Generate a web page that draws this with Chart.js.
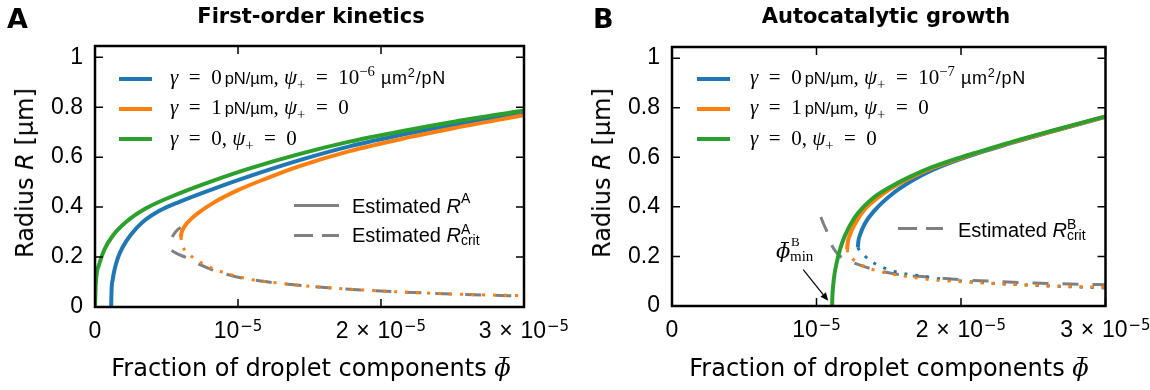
<!DOCTYPE html>
<html>
<head>
<meta charset="utf-8">
<script src="https://cdn.jsdelivr.net/npm/chart.js@4.4.1/dist/chart.umd.min.js"></script>
<style>
html, body { margin: 0; padding: 0; background: #fff; }
#fig { position: relative; width: 1150px; height: 390px; overflow: hidden; color: #000;
       font-family: "Liberation Sans", Arial, sans-serif; }
.wrap { position: absolute; top: 0; width: 575px; height: 390px; }
.t { position: absolute; white-space: nowrap; line-height: 1; }
.title { font-family: "DejaVu Sans"; font-weight: bold; font-size: 21px; transform: translateX(-50%); }
.letter { font-family: "DejaVu Sans"; font-weight: bold; font-size: 27px; }
.xlab { font-family: "DejaVu Sans"; font-size: 24px; transform: translateX(-50%); }
.ylab { font-family: "DejaVu Sans"; font-size: 24px; transform: translate(-50%, -50%) rotate(-90deg); }
.m { font-family: "Liberation Serif", serif; font-size: 21px; }
.eq { margin: 0 0.5em; }
.u { font-family: "Liberation Sans", sans-serif; font-size: 16.5px; margin-left: 3px; }
.u2 { font-size: 18px; letter-spacing: 0.8px; margin-left: 6px; }
.est { font-size: 20px; }
sup, sub { font-size: 0.7em; line-height: 0; }
.st { display: inline-flex; flex-direction: column; position: relative; top: -8px; font-size: 14px; line-height: 11px; }
.sw { position: absolute; }
.phi { position: relative; display: inline-block; font-family: "DejaVu Serif", serif; font-style: italic; }
.phi::before { content: ''; position: absolute; left: 0.22em; width: 0.4em; top: 0.06em; border-top: 0.07em solid #000; }
</style>
</head>
<body>
<div id="fig">
  <div class="wrap" style="left:0"><canvas id="chartA" width="575" height="390"></canvas></div>
  <div class="wrap" style="left:575px"><canvas id="chartB" width="575" height="390"></canvas></div>

  <!-- 标题 -->
  <div class="t letter" style="left:7px;top:5px">A</div>
  <div class="t title" style="left:311px;top:5.5px">First-order kinetics</div>
  <div class="t letter" style="left:593px;top:5px">B</div>
  <div class="t title" style="left:886px;top:5.5px">Autocatalytic growth</div>

  <!-- 坐标轴标题 -->
  <div class="t xlab" style="left:311px;top:356px">Fraction of droplet components <span class="phi">ϕ</span></div>
  <div class="t xlab" style="left:889px;top:356px">Fraction of droplet components <span class="phi">ϕ</span></div>
  <div class="t ylab" style="left:25px;top:173px">Radius <i>R</i> [µm]</div>
  <div class="t ylab" style="left:602px;top:173px">Radius <i>R</i> [µm]</div>

  <!-- 图例 A -->
  <div class="sw" style="left:119px;top:76.5px;width:33px;height:4px;background:#1f77b4"></div>
  <div class="sw" style="left:119px;top:106.5px;width:33px;height:4px;background:#ff7f0e"></div>
  <div class="sw" style="left:119px;top:137px;width:33px;height:4px;background:#2ca02c"></div>
  <div class="t" style="left:170px;top:66.5px"><span class="m"><i>γ</i><span class="eq">=</span>0</span><span class="u">pN/µm</span><span class="m">, <i>ψ</i><sub>+</sub><span class="eq">=</span>10<sup>−6</sup></span><span class="u u2">µm<sup>2</sup>/pN</span></div>
  <div class="t" style="left:170px;top:96.5px"><span class="m"><i>γ</i><span class="eq">=</span>1</span><span class="u">pN/µm</span><span class="m">, <i>ψ</i><sub>+</sub><span class="eq">=</span>0</span></div>
  <div class="t" style="left:170px;top:128px"><span class="m"><i>γ</i><span class="eq">=</span>0, <i>ψ</i><sub>+</sub><span class="eq">=</span>0</span></div>

  <div class="sw" style="left:294px;top:204.2px;width:45px;height:3px;background:#808080"></div>
  <div class="sw" style="left:294px;top:234.2px;width:45px;height:3px;background:repeating-linear-gradient(to right,#808080 0 19px,transparent 19px 28px)"></div>
  <div class="t est" style="left:352px;top:196px">Estimated <i>R</i><sup style="position:relative;top:-2px">A</sup></div>
  <div class="t est" style="left:352px;top:225px">Estimated <i>R</i><span class="st"><span>A</span><span>crit</span></span></div>

  <!-- 图例 B -->
  <div class="sw" style="left:697px;top:76.5px;width:33px;height:4px;background:#1f77b4"></div>
  <div class="sw" style="left:697px;top:106.5px;width:33px;height:4px;background:#ff7f0e"></div>
  <div class="sw" style="left:697px;top:137px;width:33px;height:4px;background:#2ca02c"></div>
  <div class="t" style="left:750px;top:66.5px"><span class="m"><i>γ</i><span class="eq">=</span>0</span><span class="u">pN/µm</span><span class="m">, <i>ψ</i><sub>+</sub><span class="eq">=</span>10<sup>−7</sup></span><span class="u u2">µm<sup>2</sup>/pN</span></div>
  <div class="t" style="left:750px;top:96.5px"><span class="m"><i>γ</i><span class="eq">=</span>1</span><span class="u">pN/µm</span><span class="m">, <i>ψ</i><sub>+</sub><span class="eq">=</span>0</span></div>
  <div class="t" style="left:750px;top:128px"><span class="m"><i>γ</i><span class="eq">=</span>0, <i>ψ</i><sub>+</sub><span class="eq">=</span>0</span></div>

  <div class="sw" style="left:898px;top:226.5px;width:45px;height:3px;background:repeating-linear-gradient(to right,#808080 0 19px,transparent 19px 28px)"></div>
  <div class="t est" style="left:958px;top:220px">Estimated <i>R</i><span class="st"><span>B</span><span>crit</span></span></div>

  <!-- 注释 φ̄_min^B -->
  <div class="t" style="left:776px;top:240px;font-size:21px"><span class="phi">ϕ</span></div>
  <div class="t m" style="left:791px;top:235px;font-size:13px">B</div>
  <div class="t m" style="left:790px;top:249px;font-size:15px">min</div>
</div>

<script>
// ---- 刻度 ----
const PHI_UNIT = 1e-5;                       // x 数值以 1e-5 为单位记录
const xTicks = [0, 1, 2, 3];
const xTickBase = ['0', '10', '2\u2004×\u200410', '3\u2004×\u200410'];
const xTickExp = ['', '−5', '−5', '−5'];
const yTicks = [0, 0.2, 0.4, 0.6, 0.8, 1];
const yTickLabels = ['0', '0.2', '0.4', '0.6', '0.8', '1'];
const xMax = 3;
const yMax = 1.045;

// ---- A: First-order kinetics ----
const aGreenX = [0, 0.005, 0.03, 0.066, 0.124, 0.217, 0.357, 0.59, 0.828, 1.066, 1.42, 1.78, 2.2, 2.49, 3.0];
const aGreenY = [0, 0.09, 0.172, 0.23, 0.285, 0.34, 0.395, 0.455, 0.506, 0.552, 0.611, 0.662, 0.71, 0.74, 0.787];

const aBlueX = [0.113, 0.116, 0.124, 0.136, 0.159, 0.194, 0.252, 0.334, 0.45, 0.59, 0.828, 1.066, 1.42, 1.78, 2.2, 2.49, 3.0];
const aBlueY = [0, 0.07, 0.11, 0.148, 0.195, 0.24, 0.29, 0.34, 0.385, 0.421, 0.473, 0.521, 0.586, 0.643, 0.696, 0.728, 0.779];

const aOrangeX = [0.6, 0.605, 0.615, 0.64, 0.68, 0.72, 0.83, 1.0, 1.2, 1.42, 1.78, 2.2, 2.49, 3.0];
const aOrangeY = [0.28, 0.297, 0.312, 0.333, 0.357, 0.376, 0.418, 0.468, 0.515, 0.562, 0.624, 0.68, 0.714, 0.768];

const aOrangeLowX = [0.6, 0.61, 0.65, 0.71, 0.77, 0.84, 0.92, 0.99, 1.1, 1.25, 1.5, 2.0, 2.5, 3.0];
const aOrangeLowY = [0.28, 0.25, 0.216, 0.189, 0.169, 0.15, 0.135, 0.123, 0.109, 0.098, 0.083, 0.064, 0.052, 0.045];

const aEstX = [0.54, 0.556, 0.575, 0.6];
const aEstY = [0.28, 0.295, 0.308, 0.318];

const aEstCritX = [0.535, 0.58, 0.64, 0.72, 0.82, 0.92, 1.01, 1.24, 1.5, 2.0, 2.5, 3.0];
const aEstCritY = [0.226, 0.212, 0.197, 0.173, 0.149, 0.131, 0.118, 0.098, 0.083, 0.064, 0.052, 0.044];

// ---- B: Autocatalytic growth ----
const bGreenX = [1.108, 1.11, 1.115, 1.125, 1.14, 1.161, 1.196, 1.265, 1.38, 1.52, 1.66, 1.8, 2.0, 2.13, 2.37, 2.61, 3.0];
const bGreenY = [0, 0.04, 0.08, 0.13, 0.175, 0.225, 0.283, 0.358, 0.43, 0.483, 0.525, 0.56, 0.6, 0.623, 0.665, 0.704, 0.765];

const bOrangeX = [1.212, 1.216, 1.23, 1.265, 1.334, 1.42, 1.52, 1.66, 1.8, 2.0, 2.37, 2.61, 3.0];
const bOrangeY = [0.228, 0.255, 0.285, 0.33, 0.39, 0.435, 0.476, 0.52, 0.556, 0.597, 0.663, 0.702, 0.764];

const bOrangeLowX = [1.212, 1.22, 1.25, 1.29, 1.35, 1.43, 1.5, 1.64, 1.78, 2.0, 2.3, 2.6, 3.0];
const bOrangeLowY = [0.228, 0.21, 0.19, 0.172, 0.155, 0.141, 0.131, 0.118, 0.107, 0.098, 0.089, 0.082, 0.075];

const bBlueX = [1.286, 1.29, 1.3, 1.334, 1.403, 1.52, 1.66, 1.8, 2.0, 2.37, 2.61, 3.0];
const bBlueY = [0.236, 0.262, 0.285, 0.332, 0.386, 0.45, 0.505, 0.548, 0.594, 0.661, 0.701, 0.763];

const bBlueLowX = [1.286, 1.3, 1.32, 1.372, 1.438, 1.5, 1.57, 1.64, 1.71, 1.85, 2.0, 2.3, 2.6, 3.0];
const bBlueLowY = [0.236, 0.222, 0.21, 0.183, 0.161, 0.147, 0.135, 0.127, 0.122, 0.11, 0.101, 0.089, 0.081, 0.073];

const bEstCritX = [1.03, 1.05, 1.069, 1.09, 1.108, 1.13, 1.154, 1.2, 1.277, 1.346, 1.49, 1.6, 1.75, 2.0, 2.25, 2.5, 2.75, 3.0];
const bEstCritY = [0.359, 0.33, 0.305, 0.27, 0.243, 0.222, 0.205, 0.188, 0.17, 0.156, 0.135, 0.125, 0.118, 0.106, 0.099, 0.093, 0.089, 0.086];

// φ̄_min^B 箭头 (起点, 终点)
const bArrowFrom = [0.908, 0.147];
const bArrowTo = [1.081, 0.021];

const BLUE = '#1f77b4', ORANGE = '#ff7f0e', GREEN = '#2ca02c', GRAY = '#808080';

const pts = (xs, ys) => xs.map((x, i) => ({ x: x * PHI_UNIT, y: ys[i] }));

function curve(xs, ys, color, width, dash, order) {
    return {
        data: pts(xs, ys),
        borderColor: color,
        backgroundColor: color,
        borderWidth: width,
        borderDash: dash,
        borderCapStyle: 'butt',
        showLine: true,
        fill: false,
        pointRadius: 0,
        pointHoverRadius: 0,
        cubicInterpolationMode: 'monotone',
        order: order
    };
}

// 内向刻度线 + 四边边框 + 横轴刻度文字(带上标)
const framePlugin = {
    id: 'frame',
    afterDatasetsDraw(chart) {
        const { ctx, chartArea: a, scales: { x, y } } = chart;
        const tl = 8;
        ctx.save();
        ctx.strokeStyle = '#000';
        ctx.lineWidth = 1.5;
        ctx.beginPath();
        x.ticks.forEach(t => {
            const px = x.getPixelForValue(t.value);
            ctx.moveTo(px, a.bottom); ctx.lineTo(px, a.bottom - tl);
            ctx.moveTo(px, a.top); ctx.lineTo(px, a.top + tl);
        });
        y.ticks.forEach(t => {
            const py = y.getPixelForValue(t.value);
            ctx.moveTo(a.left, py); ctx.lineTo(a.left + tl, py);
            ctx.moveTo(a.right, py); ctx.lineTo(a.right - tl, py);
        });
        ctx.stroke();
        ctx.lineWidth = 2.5;
        ctx.strokeRect(a.left, a.top, a.right - a.left, a.bottom - a.top);

        // 刻度文字
        const baseFont = '23px "Liberation Sans"', expFont = '15px "DejaVu Sans"';
        ctx.fillStyle = '#000';
        ctx.textBaseline = 'alphabetic';
        ctx.textAlign = 'left';
        x.ticks.forEach((t, i) => {
            const px = x.getPixelForValue(t.value);
            ctx.font = baseFont;
            const wb = ctx.measureText(xTickBase[i]).width;
            ctx.font = expFont;
            const we = xTickExp[i] ? ctx.measureText(xTickExp[i]).width + 1 : 0;
            const x0 = px - (wb + we) / 2;
            ctx.font = baseFont;
            ctx.fillText(xTickBase[i], x0, a.bottom + 31.3);
            if (xTickExp[i]) {
                ctx.font = expFont;
                ctx.fillText(xTickExp[i], x0 + wb + 1, a.bottom + 23.5);
            }
        });
        ctx.restore();
    }
};

// 注释箭头
const arrowPlugin = {
    id: 'arrow',
    afterDatasetsDraw(chart, args, opts) {
        if (!opts.from) return;
        const { ctx, scales: { x, y } } = chart;
        const x0 = x.getPixelForValue(opts.from[0] * PHI_UNIT), y0 = y.getPixelForValue(opts.from[1]);
        const x1 = x.getPixelForValue(opts.to[0] * PHI_UNIT), y1 = y.getPixelForValue(opts.to[1]);
        const ang = Math.atan2(y1 - y0, x1 - x0);
        const hl = 8, hw = 3.5;
        ctx.save();
        ctx.strokeStyle = '#000';
        ctx.fillStyle = '#000';
        ctx.lineWidth = 1.2;
        ctx.beginPath();
        ctx.moveTo(x0, y0);
        ctx.lineTo(x1 - hl * Math.cos(ang), y1 - hl * Math.sin(ang));
        ctx.stroke();
        ctx.beginPath();
        ctx.moveTo(x1, y1);
        ctx.lineTo(x1 - hl * Math.cos(ang) + hw * Math.sin(ang), y1 - hl * Math.sin(ang) - hw * Math.cos(ang));
        ctx.lineTo(x1 - hl * Math.cos(ang) - hw * Math.sin(ang), y1 - hl * Math.sin(ang) + hw * Math.cos(ang));
        ctx.closePath();
        ctx.fill();
        ctx.restore();
    }
};

function makeOptions(pad, yWidth, xHeight, arrow) {
    return {
        responsive: false,
        animation: false,
        events: [],
        layout: { padding: pad },
        plugins: { legend: { display: false }, tooltip: { enabled: false }, arrow: arrow || {} },
        scales: {
            x: {
                type: 'linear',
                min: 0,
                max: xMax * PHI_UNIT,
                grid: { display: false, drawTicks: false },
                border: { display: false },
                afterBuildTicks: s => { s.ticks = xTicks.map(v => ({ value: v * PHI_UNIT })); },
                ticks: { display: false },
                afterFit: s => { s.height = xHeight; s.paddingLeft = 0; s.paddingRight = 0; }
            },
            y: {
                type: 'linear',
                min: 0,
                max: yMax,
                grid: { display: false, drawTicks: false },
                border: { display: false },
                afterBuildTicks: s => { s.ticks = yTicks.map(v => ({ value: v })); },
                ticks: {
                    autoSkip: false,
                    padding: 12,
                    color: '#000',
                    font: { family: 'Liberation Sans', size: 23 },
                    callback: (v, i) => yTickLabels[i]
                },
                afterFit: s => { s.width = yWidth; s.paddingTop = 0; s.paddingBottom = 0; }
            }
        }
    };
}

new Chart(document.getElementById('chartA'), {
    type: 'scatter',
    data: {
        datasets: [
            curve(aGreenX, aGreenY, GREEN, 4, [], 1),
            curve(aOrangeX, aOrangeY, ORANGE, 4, [], 2),
            curve(aOrangeLowX, aOrangeLowY, ORANGE, 3, [3, 8], 2),
            curve(aBlueX, aBlueY, BLUE, 4, [], 3),
            curve(aEstX, aEstY, GRAY, 3, [], 4),
            curve(aEstCritX, aEstCritY, GRAY, 3, [16, 14], 4)
        ]
    },
    options: makeOptions({ left: 0, top: 46, right: 51, bottom: 0 }, 95, 83),
    plugins: [framePlugin]
});

new Chart(document.getElementById('chartB'), {
    type: 'scatter',
    data: {
        datasets: [
            curve(bGreenX, bGreenY, GREEN, 4, [], 1),
            curve(bOrangeX, bOrangeY, ORANGE, 4, [], 2),
            curve(bOrangeLowX, bOrangeLowY, ORANGE, 3, [3, 8], 2),
            curve(bBlueX, bBlueY, BLUE, 4, [], 3),
            curve(bBlueLowX, bBlueLowY, BLUE, 3, [3, 8], 3),
            curve(bEstCritX, bEstCritY, GRAY, 3, [16, 14], 4)
        ]
    },
    options: makeOptions({ left: 0, top: 47, right: 44.5, bottom: 0 }, 97, 84, { from: bArrowFrom, to: bArrowTo }),
    plugins: [framePlugin, arrowPlugin]
});
</script>
</body>
</html>
